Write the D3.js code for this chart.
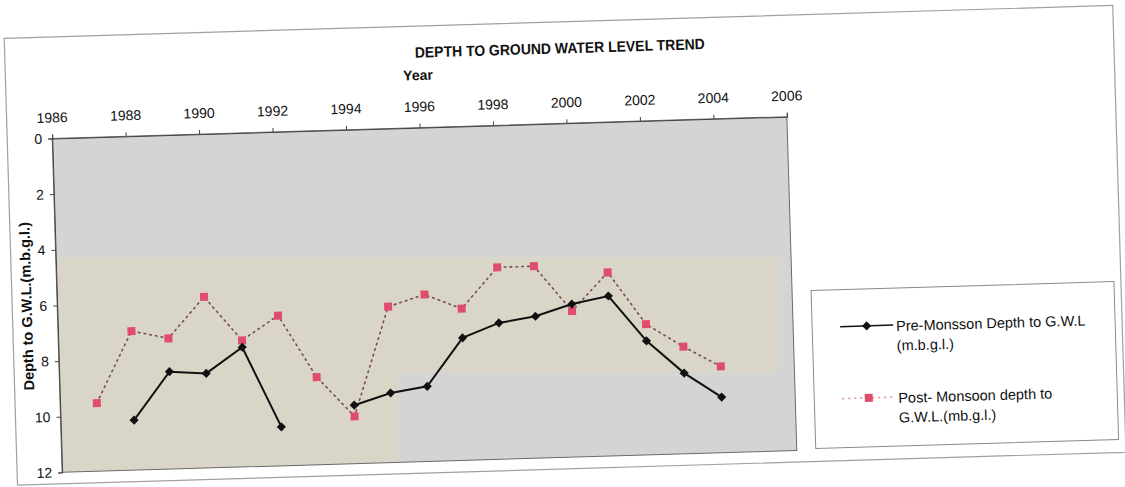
<!DOCTYPE html>
<html>
<head>
<meta charset="utf-8">
<script src="https://cdn.jsdelivr.net/npm/d3@7"></script>
<style>
  html, body { margin: 0; padding: 0; background: #ffffff; }
  svg { display: block; font-family: "Liberation Sans", Arial, sans-serif; }
</style>
</head>
<body>
<svg id="chart" width="1125" height="487"></svg>
<script>
// Depth to ground water level (m below ground level), pre- and post-monsoon
const years       = [1987, 1988, 1989, 1990, 1991, 1992, 1993, 1994, 1995, 1996, 1997, 1998, 1999, 2000, 2001, 2002, 2003, 2004];
const preMonsoon  = [null, 10.2, 8.5, 8.6, 7.7, 10.6, null, 9.9, 9.5, 9.3, 7.6, 7.1, 6.9, 6.5, 6.25, 7.9, 9.1, 10.0];
const postMonsoon = [9.55, 7.0, 7.3, 5.85, 7.45, 6.6, 8.85, 10.3, 6.4, 6.0, 6.55, 5.1, 5.1, 6.75, 5.4, 7.3, 8.15, 8.9];

const yearTicks  = [1986, 1988, 1990, 1992, 1994, 1996, 1998, 2000, 2002, 2004, 2006];
const depthTicks = [0, 2, 4, 6, 8, 10, 12];

const titleText  = "DEPTH TO GROUND WATER LEVEL TREND";
const xTitle     = "Year";
const yTitle     = "Depth to G.W.L.(m.b.g.l.)";
const preLabel   = ["Pre-Monsson Depth to G.W.L", "(m.b.g.l.)"];
const postLabel  = ["Post- Monsoon depth to", "G.W.L.(mb.g.l.)"];

// ---- layout ----
const svg = d3.select("#chart");
const plot = { left: 57, top: 127.5, right: 792, bottom: 461.5 };
const tilt = -1.7;
const cx = (plot.left + plot.right) / 2, cy = (plot.top + plot.bottom) / 2;
const tiltTf = `rotate(${tilt},${cx},${cy})`;

const x = d3.scaleLinear().domain([1986, 2006]).range([plot.left, plot.right]);
const y = d3.scaleLinear().domain([0, 12]).range([plot.top, plot.bottom]);

const defs = svg.append("defs");
defs.append("clipPath").attr("id", "plotClip")
  .append("rect")
  .attr("x", plot.left).attr("y", plot.top)
  .attr("width", plot.right - plot.left).attr("height", plot.bottom - plot.top)
  .attr("transform", tiltTf);

// layers: tilted background, level shaded band, tilted foreground
const back  = svg.append("g").attr("transform", tiltTf);
const band  = svg.append("g").attr("clip-path", "url(#plotClip)");
const g     = svg.append("g").attr("transform", tiltTf);

// outer chart frame
back.append("rect")
  .attr("x", 12).attr("y", 26).attr("width", 1109).attr("height", 447)
  .attr("fill", "#ffffff").attr("stroke", "#a0a0a0").attr("stroke-width", 1.2);

// plot background
back.append("rect")
  .attr("x", plot.left).attr("y", plot.top)
  .attr("width", plot.right - plot.left).attr("height", plot.bottom - plot.top)
  .attr("fill", "#d4d4d4");

// warm shaded band behind the series
band.append("path")
  .attr("d", "M0,257.5 H778 V371.7 H398 V500 H0 Z")
  .attr("fill", "#d9d5c7");

// plot border
g.append("rect")
  .attr("x", plot.left).attr("y", plot.top)
  .attr("width", plot.right - plot.left).attr("height", plot.bottom - plot.top)
  .attr("fill", "none").attr("stroke", "#6a6a6a").attr("stroke-width", 1);

// axes
const xAxis = g.append("g")
  .attr("transform", `translate(0,${plot.top})`)
  .call(d3.axisTop(x).tickValues(yearTicks).tickFormat(d3.format("d")).tickSize(4).tickPadding(12));
const yAxis = g.append("g")
  .attr("transform", `translate(${plot.left},0)`)
  .call(d3.axisLeft(y).tickValues(depthTicks).tickFormat(d3.format("d")).tickSize(4).tickPadding(6));
[xAxis, yAxis].forEach(a => {
  a.select(".domain").attr("stroke", "#444");
  a.selectAll(".tick line").attr("stroke", "#444");
  a.selectAll(".tick text").attr("fill", "#111").style("font-size", "14px")
    .style("font-family", "'Liberation Sans', Arial, sans-serif");
});

// titles
g.append("text")
  .attr("x", 567).attr("y", 57.5)
  .attr("text-anchor", "middle")
  .attr("textLength", 290).attr("lengthAdjust", "spacingAndGlyphs")
  .style("font-size", "15px").style("font-weight", "bold").attr("fill", "#111")
  .text(titleText);
g.append("text")
  .attr("x", cx).attr("y", 80)
  .attr("text-anchor", "middle")
  .style("font-size", "14px").style("font-weight", "bold").attr("fill", "#111")
  .text(xTitle);
g.append("text")
  .attr("transform", `translate(31.5,${cy}) rotate(-90)`)
  .attr("text-anchor", "middle")
  .style("font-size", "14.5px").style("font-weight", "bold").attr("fill", "#111")
  .text(yTitle);

// series
const pre  = years.map((yr, i) => ({ yr, v: preMonsoon[i] }));
const post = years.map((yr, i) => ({ yr, v: postMonsoon[i] }));
const line = d3.line().defined(d => d.v != null).x(d => x(d.yr)).y(d => y(d.v));

const series = g.append("g");
series.append("path").datum(post)
  .attr("d", line).attr("fill", "none")
  .attr("stroke", "#7a4a55").attr("stroke-width", 1.6)
  .attr("stroke-dasharray", "1.6,4.2").attr("stroke-linecap", "round");
series.append("path").datum(pre)
  .attr("d", line).attr("fill", "none")
  .attr("stroke", "#111").attr("stroke-width", 2);

series.selectAll(".sq").data(post.filter(d => d.v != null)).join("rect")
  .attr("class", "sq")
  .attr("x", d => x(d.yr) - 4).attr("y", d => y(d.v) - 4)
  .attr("width", 8).attr("height", 8)
  .attr("fill", "#e04c6c");

const diamond = d3.symbol(d3.symbolSquare, 42);
series.selectAll(".dm").data(pre.filter(d => d.v != null)).join("path")
  .attr("class", "dm")
  .attr("d", diamond)
  .attr("transform", d => `translate(${x(d.yr)},${y(d.v)}) rotate(45)`)
  .attr("fill", "#111");

// legend
const lg = g.append("g");
lg.append("rect")
  .attr("x", 811).attr("y", 302).attr("width", 303).attr("height", 158)
  .attr("fill", "#ffffff").attr("stroke", "#8a8a8a").attr("stroke-width", 1);

const items = [
  { label: preLabel,  yc: 339, kind: "pre"  },
  { label: postLabel, yc: 411, kind: "post" }
];
items.forEach(it => {
  const row = lg.append("g");
  if (it.kind === "pre") {
    row.append("line").attr("x1", 839).attr("x2", 892).attr("y1", it.yc).attr("y2", it.yc)
      .attr("stroke", "#111").attr("stroke-width", 1.5);
    row.append("path").attr("d", diamond)
      .attr("transform", `translate(865.5,${it.yc}) rotate(45)`).attr("fill", "#111");
  } else {
    row.append("line").attr("x1", 839).attr("x2", 892).attr("y1", it.yc).attr("y2", it.yc)
      .attr("stroke", "#e890a4").attr("stroke-width", 1.6)
      .attr("stroke-dasharray", "2,4");
    row.append("rect").attr("x", 861.5).attr("y", it.yc - 4).attr("width", 8).attr("height", 8)
      .attr("fill", "#e04c6c");
  }
  it.label.forEach((t, k) => {
    row.append("text")
      .attr("x", 895).attr("y", it.yc + 6 + k * 19.5)
      .style("font-size", "14.5px").attr("fill", "#111")
      .text(t);
  });
});
</script>
</body>
</html>
